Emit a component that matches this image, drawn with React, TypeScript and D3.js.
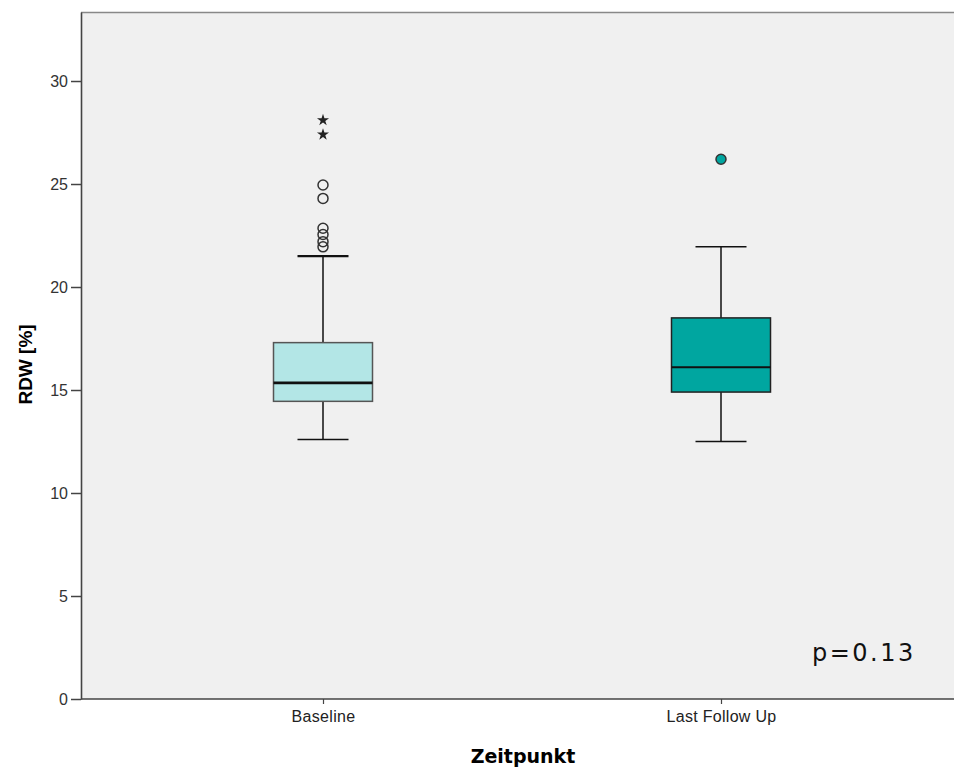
import {useEffect, useRef} from "react";
import * as d3 from "d3";

// categories and box statistics
const groups = ["Baseline", "Last Follow Up"];
const whiskerLow = [12.6, 12.5];
const q1 = [14.45, 14.9];
const median = [15.35, 16.1];
const q3 = [17.3, 18.5];
const whiskerHigh = [21.5, 21.95];
const boxColors = ["#b3e6e6", "#00a6a0"];

// outliers (circles) and extremes (stars)
const outliersBaseline = [24.95, 24.3, 22.85, 22.55, 22.2, 21.95];
const extremesBaseline = [28.1, 27.4];
const outliersFollowUp = [26.2];

const yTicks = [0, 5, 10, 15, 20, 25, 30];

export default function App() {
    const svgRef = useRef<SVGSVGElement | null>(null);

    useEffect(() => {
        if (!svgRef.current) return;
        const svg = d3.select(svgRef.current);
        svg.selectAll("*").remove();

        const width = 954, height = 773;
        const margin = {top: 12, right: 0, bottom: 74, left: 81};
        const tickFont = "'Liberation Sans', Arial, sans-serif";

        const x = d3.scalePoint<string>()
            .domain(groups)
            .range([323, 721]);
        const y = d3.scaleLinear()
            .domain([0, 33.35])
            .range([height - margin.bottom, margin.top]);

        const boxW = 99, capW = 51;

        // background
        svg.append("rect")
            .attr("x", margin.left).attr("y", margin.top)
            .attr("width", width - margin.left).attr("height", y(0) - margin.top)
            .attr("fill", "#f0f0f0");
        svg.append("line")
            .attr("x1", margin.left).attr("x2", width)
            .attr("y1", margin.top + 0.5).attr("y2", margin.top + 0.5)
            .attr("stroke", "#888").attr("stroke-width", 1.5);

        // axes
        const yAxis = svg.append("g")
            .attr("transform", `translate(${margin.left},0)`)
            .call(d3.axisLeft(y).tickValues(yTicks).tickSize(10).tickSizeOuter(0).tickPadding(3));
        yAxis.select(".domain").attr("stroke", "#444").attr("stroke-width", 1.6);
        yAxis.selectAll(".tick line").attr("stroke", "#444").attr("stroke-width", 1.5);
        yAxis.selectAll("text")
            .style("font-family", tickFont)
            .style("font-size", "16px").attr("fill", "#333");

        const xAxis = svg.append("g")
            .attr("transform", `translate(0,${y(0)})`)
            .call(d3.axisBottom(x).tickSize(5).tickPadding(7).tickSizeOuter(0));
        xAxis.select(".domain").attr("d", `M${margin.left},0H${width}`)
            .attr("stroke", "#444").attr("stroke-width", 1.6);
        xAxis.selectAll(".tick line").attr("stroke", "#444").attr("stroke-width", 1.2);
        xAxis.selectAll("text")
            .style("font-family", tickFont)
            .style("font-size", "16px").style("letter-spacing", "0.3px")
            .attr("fill", "#222");

        // boxes
        groups.forEach((g, i) => {
            const cx = x(g)!;
            const grp = svg.append("g");
            grp.append("line")
                .attr("x1", cx).attr("x2", cx)
                .attr("y1", y(whiskerLow[i])).attr("y2", y(whiskerHigh[i]))
                .attr("stroke", "#111").attr("stroke-width", 1.5);
            [whiskerLow[i], whiskerHigh[i]].forEach(v => {
                grp.append("line")
                    .attr("x1", cx - capW / 2).attr("x2", cx + capW / 2)
                    .attr("y1", y(v)).attr("y2", y(v))
                    .attr("stroke", "#111").attr("stroke-width", i === 0 && v === whiskerHigh[i] ? 2.2 : 1.5);
            });
            grp.append("rect")
                .attr("x", cx - boxW / 2).attr("width", boxW)
                .attr("y", y(q3[i])).attr("height", y(q1[i]) - y(q3[i]))
                .attr("fill", boxColors[i])
                .attr("stroke", i === 0 ? "#555" : "#222").attr("stroke-width", 1.5);
            grp.append("line")
                .attr("x1", cx - boxW / 2).attr("x2", cx + boxW / 2)
                .attr("y1", y(median[i])).attr("y2", y(median[i]))
                .attr("stroke", "#111").attr("stroke-width", i === 0 ? 2.8 : 2);
        });

        // outliers
        const cx0 = x(groups[0])!;
        svg.append("g").selectAll("circle")
            .data(outliersBaseline)
            .join("circle")
            .attr("cx", cx0).attr("cy", d => y(d)).attr("r", 5)
            .attr("fill", "none").attr("stroke", "#333").attr("stroke-width", 1.5);
        const star = d3.symbol().type(d3.symbolStar).size(45);
        svg.append("g").selectAll("path")
            .data(extremesBaseline)
            .join("path")
            .attr("transform", d => `translate(${cx0},${y(d)})`)
            .attr("d", star()!)
            .attr("fill", "#222");

        const cx1 = x(groups[1])!;
        svg.append("g").selectAll("circle")
            .data(outliersFollowUp)
            .join("circle")
            .attr("cx", cx1).attr("cy", d => y(d)).attr("r", 5)
            .attr("fill", boxColors[1]).attr("stroke", "#333").attr("stroke-width", 1.5);

        // titles
        svg.append("text")
            .attr("transform", `translate(32,${(y(0) + margin.top) / 2 + 9}) rotate(-90)`)
            .attr("text-anchor", "middle")
            .style("font-family", tickFont)
            .style("font-size", "19px").style("font-weight", "bold")
            .text("RDW [%]");
        svg.append("text")
            .attr("x", 523).attr("y", 763)
            .attr("text-anchor", "middle")
            .style("font-family", "'DejaVu Sans', Verdana, sans-serif")
            .style("font-size", "19px").style("font-weight", "bold")
            .text("Zeitpunkt");

        svg.append("text")
            .attr("x", 812).attr("y", 661)
            .style("font-family", "'DejaVu Sans', Verdana, sans-serif")
            .style("font-size", "24px").style("letter-spacing", "2.5px")
            .attr("fill", "#111")
            .text("p=0.13");
    }, []);

    return (
        <svg ref={svgRef} width={954} height={773}
             style={{position: "absolute", left: 0, top: 0, background: "#fff"}}></svg>
    );
}
